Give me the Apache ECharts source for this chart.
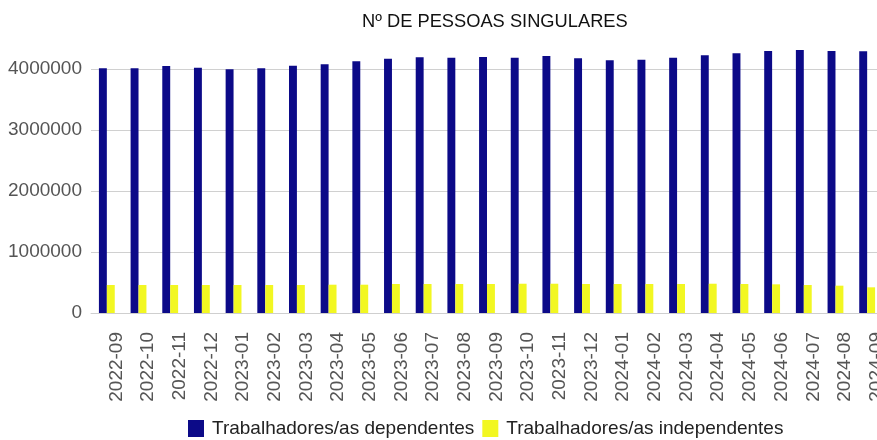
<!DOCTYPE html>
<html>
<head>
<meta charset="utf-8">
<script src="https://cdn.jsdelivr.net/npm/echarts@6/dist/echarts.min.js"></script>
<style>
  html, body { margin: 0; padding: 0; background: #fff; }
  #chart { width: 877px; height: 440px; }
</style>
</head>
<body>
<div id="chart"></div>
<script>
const months = [
  '2022-09', '2022-10', '2022-11', '2022-12', '2023-01', '2023-02', '2023-03', '2023-04',
  '2023-05', '2023-06', '2023-07', '2023-08', '2023-09', '2023-10', '2023-11', '2023-12',
  '2024-01', '2024-02', '2024-03', '2024-04', '2024-05', '2024-06', '2024-07', '2024-08', '2024-09'
];
const dependentes = [
  4011000, 4011000, 4049000, 4021000, 3995000, 4011000, 4054000, 4077000,
  4126000, 4169000, 4192000, 4185000, 4197000, 4185000, 4213000, 4175000,
  4143000, 4152000, 4185000, 4225000, 4257000, 4295000, 4311000, 4295000, 4290000
];
const independentes = [
  459000, 459000, 459000, 459000, 459000, 459000, 459000, 464000,
  464000, 475000, 475000, 475000, 475000, 480000, 480000, 475000,
  475000, 475000, 475000, 480000, 475000, 470000, 459000, 448000, 421000
];

const darkColor = '#0c0a88';
const yellowColor = '#f2f722';
const font = 'Liberation Sans, Arial, sans-serif';

const chart = echarts.init(document.getElementById('chart'));
chart.setOption({
  animation: false,
  backgroundColor: '#ffffff',
  title: {
    text: 'Nº DE PESSOAS SINGULARES',
    left: 357,
    top: 8,
    textStyle: { color: '#111', fontSize: 18.3, fontWeight: 'normal', fontFamily: font },
  },
  legend: {
    top: 414,
    left: 183,
    icon: 'rect',
    itemWidth: 16,
    itemHeight: 17,
    itemGap: 8,
    textStyle: { color: '#222', fontSize: 19, fontFamily: font, padding: [0, 0, 0, 3] },
    data: ['Trabalhadores/as dependentes', 'Trabalhadores/as independentes'],
  },
  grid: { left: 91, top: 69, width: 792, height: 244, outerBoundsMode: 'none' },
  xAxis: {
    type: 'category',
    data: months,
    axisLine: { lineStyle: { color: '#cfcfcf' } },
    axisTick: { show: false },
    axisLabel: {
      rotate: 90,
      interval: 0,
      margin: 19,
      verticalAlign: 'top',
      color: '#555',
      fontSize: 19,
      fontFamily: font,
    },
  },
  yAxis: {
    type: 'value',
    min: 0,
    max: 4000000,
    interval: 1000000,
    axisLine: { show: false },
    axisTick: { show: false },
    axisLabel: {
      color: '#555',
      fontSize: 19,
      fontFamily: font,
      margin: 9,
      formatter: (v) => String(v),
    },
    splitLine: { lineStyle: { color: '#d0d0d0' } },
  },
  series: [
    {
      name: 'Trabalhadores/as dependentes',
      type: 'bar',
      data: dependentes,
      clip: false,
      itemStyle: { color: darkColor },
      barGap: '0%',
      barCategoryGap: '50%',
    },
    {
      name: 'Trabalhadores/as independentes',
      type: 'bar',
      data: independentes,
      clip: false,
      itemStyle: { color: yellowColor },
    },
  ],
});
</script>
</body>
</html>
